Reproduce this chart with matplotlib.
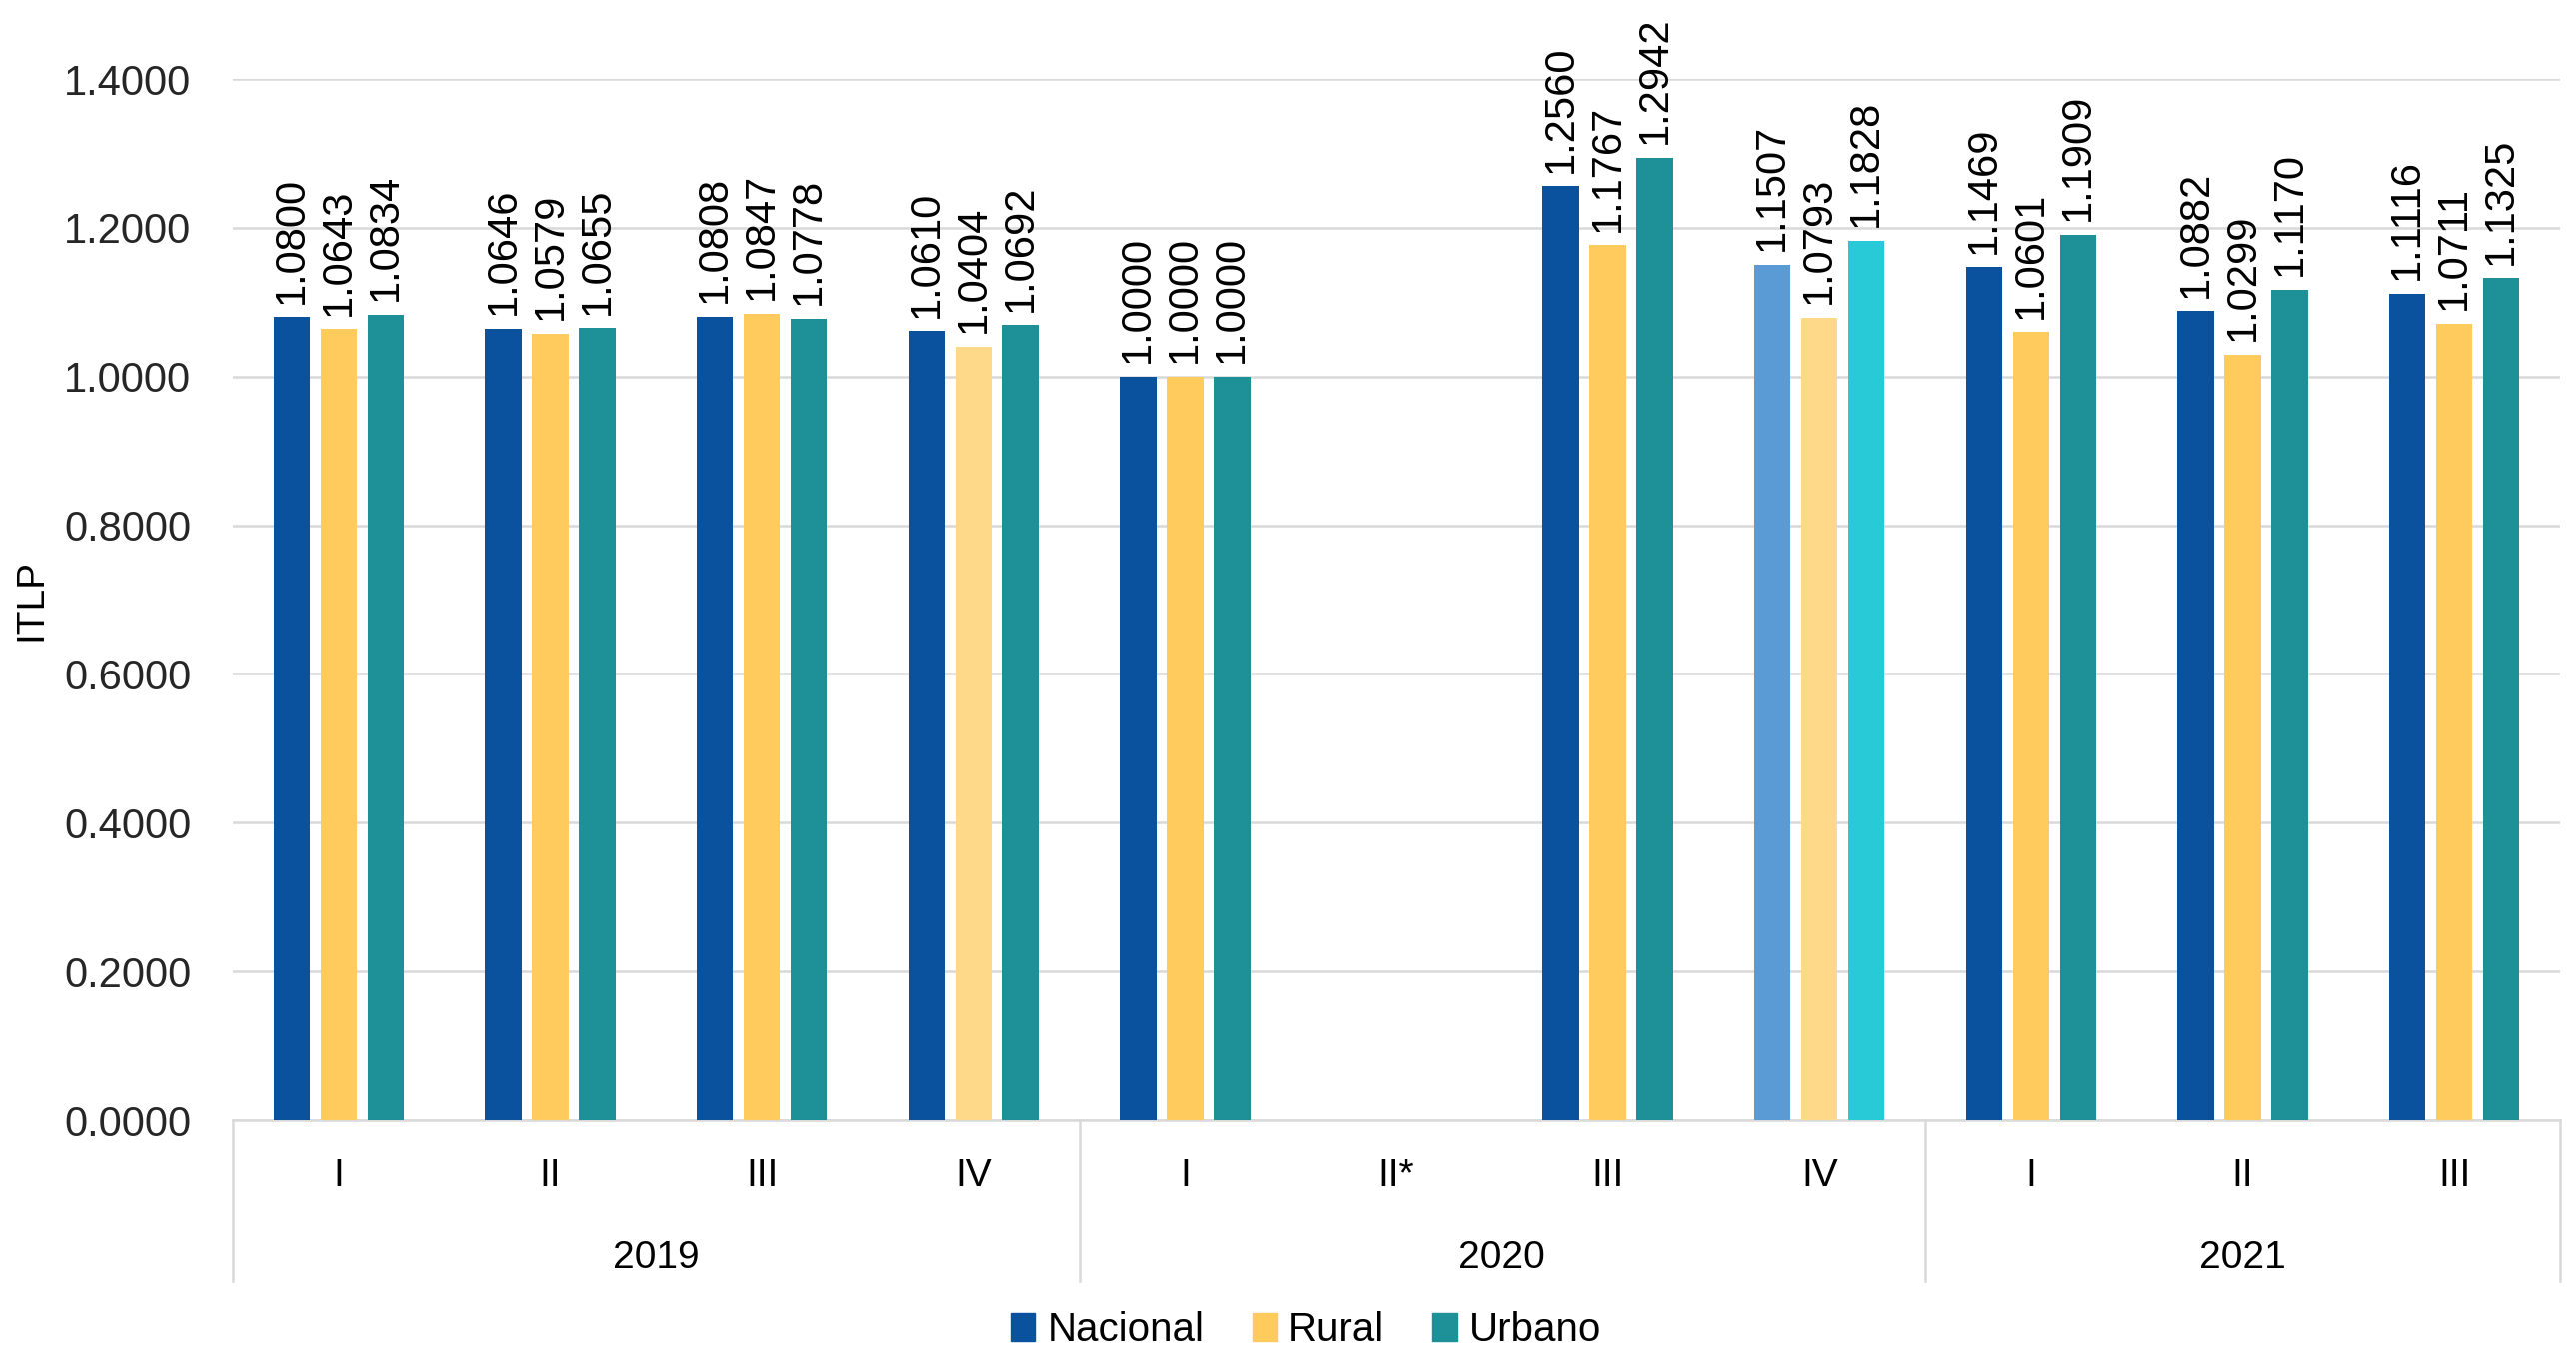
import numpy as np
import matplotlib.pyplot as plt
from matplotlib.transforms import blended_transform_factory
from matplotlib.patches import Patch

plt.rcParams['font.family'] = ['Liberation Sans', 'DejaVu Sans']

# data
quarters = ["I", "II", "III", "IV", "I", "II*", "III", "IV", "I", "II", "III"]
years = ["2019", "2020", "2021"]
year_spans = [(0, 3), (4, 7), (8, 10)]
nacional = [1.0800, 1.0646, 1.0808, 1.0610, 1.0000, np.nan, 1.2560, 1.1507, 1.1469, 1.0882, 1.1116]
rural = [1.0643, 1.0579, 1.0847, 1.0404, 1.0000, np.nan, 1.1767, 1.0793, 1.0601, 1.0299, 1.0711]
urbano = [1.0834, 1.0655, 1.0778, 1.0692, 1.0000, np.nan, 1.2942, 1.1828, 1.1909, 1.1170, 1.1325]

c_nac = ["#0A529E"] * 11
c_rur = ["#FECB5C"] * 11
c_urb = ["#1E9098"] * 11
# highlighted / lighter bars
c_rur[3] = "#FED98A"
c_nac[7] = "#5B9BD5"
c_rur[7] = "#FED98A"
c_urb[7] = "#27CAD6"

fig = plt.figure(figsize=(25.77, 13.49), dpi=100)
ax = fig.add_axes([0.0904, 0.169, 0.9034, 0.7724])

x = np.arange(len(quarters))
off = 0.222
w = 0.172
series = [(nacional, c_nac, -off), (rural, c_rur, 0), (urbano, c_urb, off)]
for vals, cols, dx in series:
    ax.bar(x + dx, vals, width=w, color=cols, zorder=3)
    for xi, v in zip(x, vals):
        if np.isnan(v):
            continue
        ax.text(xi + dx, v + 0.018, f"{v:.4f}", rotation=90, ha="center", va="bottom",
                fontsize=30, color="black", zorder=4)

ax.set_xlim(-0.5, 10.5)
ax.set_ylim(0, 1.4)
ax.set_yticks(np.arange(0, 1.41, 0.2))
ax.set_yticklabels([f"{t:.4f}" for t in np.arange(0, 1.41, 0.2)], fontsize=30, color="#262626")
ax.tick_params(axis="y", length=0, pad=30)
ax.grid(axis="y", color="#D9D9D9", linewidth=1.8, zorder=0)
for s in ["left", "right", "top"]:
    ax.spines[s].set_visible(False)
ax.spines["bottom"].set_color("#D9D9D9")
ax.spines["bottom"].set_linewidth(1.8)
ax.set_ylabel("ITLP", fontsize=28)
ax.yaxis.set_label_coords(-0.079, 0.5)

ax.set_xticks([])
trans = blended_transform_factory(ax.transData, ax.transAxes)
for xi, q in zip(x, quarters):
    ax.text(xi, -0.0537, q, transform=trans, ha="center", va="center", fontsize=28)
for yr, (a, b) in zip(years, year_spans):
    ax.text((a + b) / 2, -0.1324, yr, transform=trans, ha="center", va="center", fontsize=28)
for sep in [-0.5, 3.5, 7.5, 10.5]:
    ax.plot([sep, sep], [0, -0.1545], transform=trans, color="#D9D9D9", linewidth=1.8, clip_on=False)

handles = [Patch(color="#0A529E", label="Nacional"),
           Patch(color="#FECB5C", label="Rural"),
           Patch(color="#1E9098", label="Urbano")]
fig.legend(handles=handles, loc="center", bbox_to_anchor=(0.507, 0.0133), ncol=3, frameon=False,
           fontsize=29, handlelength=0.6, handleheight=0.7, handletextpad=0.3, columnspacing=1.2)

fig.savefig("out.png", dpi=100)
